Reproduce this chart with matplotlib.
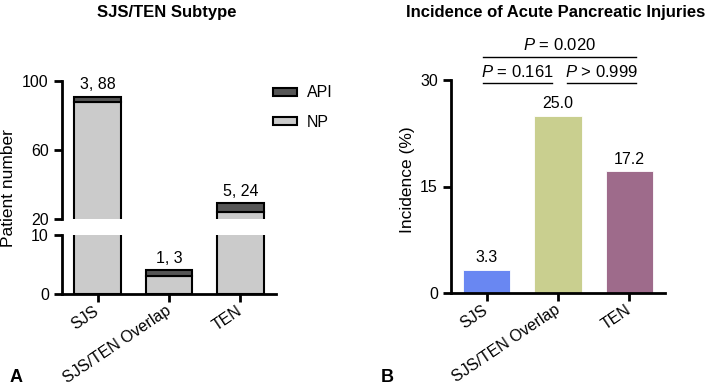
import matplotlib
matplotlib.use('Agg')
import matplotlib.pyplot as plt
import numpy as np

plt.rcParams['font.family'] = ['Liberation Sans', 'DejaVu Sans']
plt.rcParams['mathtext.fontset'] = 'custom'
plt.rcParams['mathtext.it'] = 'Liberation Sans:italic'
plt.rcParams['mathtext.rm'] = 'Liberation Sans'

groups = ['SJS', 'SJS/TEN Overlap', 'TEN']
api = [3, 1, 5]
np_counts = [88, 3, 24]
incidence = [3.3, 25.0, 17.2]
inc_colors = ['#6987f2', '#c9cf8f', '#9e6b8b']
pvals = ['$P$ = 0.161', '$P$ > 0.999', '$P$ = 0.020']

W, H = 711, 389
fig = plt.figure(figsize=(W/100, H/100), dpi=100)

def fx(px):
    return px/W

def fy(py):
    return 1 - py/H

x = np.arange(len(groups))
fs = 11.5
lw_ax = 2.0
lw_bar = 1.5
rot = 34

def style_xticks(ax):
    ax.set_xticks(x)
    ax.set_xticklabels(groups, rotation=rot, ha='right', va='center',
                       rotation_mode='anchor', fontsize=fs)
    ax.tick_params(axis='x', pad=5)

# ---- panel A: broken axis stacked bars
ax_top = fig.add_axes([fx(62), fy(219), fx(214), 138/H])
ax_bot = fig.add_axes([fx(62), fy(294), fx(214), 59/H])

for ax in (ax_top, ax_bot):
    ax.bar(x, np_counts, width=0.65, color='#cbcbcb', edgecolor='black',
           linewidth=lw_bar, label='NP')
    ax.bar(x, api, width=0.65, bottom=np_counts, color='#565656',
           edgecolor='black', linewidth=lw_bar, label='API')
    ax.set_xlim(-0.5, 2.5)
    for s in ('top', 'right'):
        ax.spines[s].set_visible(False)
    ax.spines['left'].set_linewidth(lw_ax)
    ax.spines['bottom'].set_linewidth(lw_ax)
    ax.tick_params(width=lw_ax, length=6, labelsize=fs)

ax_top.set_ylim(20, 100)
ax_top.set_yticks([20, 60, 100])
ax_top.spines['bottom'].set_visible(False)
ax_top.set_xticks([])
ax_bot.set_ylim(0, 10)
ax_bot.set_yticks([0, 10])
style_xticks(ax_bot)

for i in range(len(groups)):
    tot = api[i] + np_counts[i]
    txt = f'{api[i]}, {np_counts[i]}'
    ax = ax_top if tot > 20 else ax_bot
    ax.annotate(txt, (x[i], tot), xytext=(0, 3), textcoords='offset points',
                ha='center', va='bottom', fontsize=fs, annotation_clip=False)

h, l = ax_top.get_legend_handles_labels()
fig.legend(h[::-1], l[::-1], loc='upper left', bbox_to_anchor=(fx(259), fy(71)),
           frameon=False, fontsize=fs, handlelength=1.5, handleheight=0.4,
           labelspacing=0.9, handletextpad=0.6)

fig.text(fx(9), fy(188), 'Patient number', rotation=90, ha='center', va='center',
         fontsize=12.5)
fig.text(fx(167), fy(13), 'SJS/TEN Subtype', ha='center', va='center',
         fontsize=12, fontweight='bold')
fig.text(fx(16), fy(378), 'A', ha='center', va='center', fontsize=13, fontweight='bold')

# ---- panel B: incidence
axb = fig.add_axes([fx(451), fy(293), fx(214), 213/H])
axb.bar(x, incidence, width=0.66, color=inc_colors, edgecolor='white', linewidth=0.6)
axb.set_xlim(-0.5, 2.5)
axb.set_ylim(0, 30)
axb.set_yticks([0, 15, 30])
for s in ('top', 'right'):
    axb.spines[s].set_visible(False)
axb.spines['left'].set_linewidth(lw_ax)
axb.spines['bottom'].set_linewidth(lw_ax)
axb.tick_params(width=lw_ax, length=6, labelsize=fs)
style_xticks(axb)
fig.text(fx(407), fy(180), 'Incidence (%)', rotation=90, ha='center', va='center',
         fontsize=12.5)
for i, v in enumerate(incidence):
    axb.annotate(f'{v:.1f}', (x[i], v), xytext=(0, 3), textcoords='offset points',
                 ha='center', va='bottom', fontsize=fs)

# significance brackets
brackets = [(-0.05, 0.92, 29.6), (1.12, 2.1, 29.6), (-0.05, 2.1, 33.3)]
for (x0, x1, yy), p in zip(brackets, pvals):
    axb.plot([x0, x1], [yy, yy], color='black', linewidth=1.0, clip_on=False)
    axb.text((x0 + x1)/2, yy + 0.45, p, ha='center', va='bottom', fontsize=12)

fig.text(fx(556), fy(13), 'Incidence of Acute Pancreatic Injuries', ha='center',
         va='center', fontsize=12, fontweight='bold')
fig.text(fx(387), fy(378), 'B', ha='center', va='center', fontsize=13, fontweight='bold')

fig.savefig('out.png', dpi=100)
